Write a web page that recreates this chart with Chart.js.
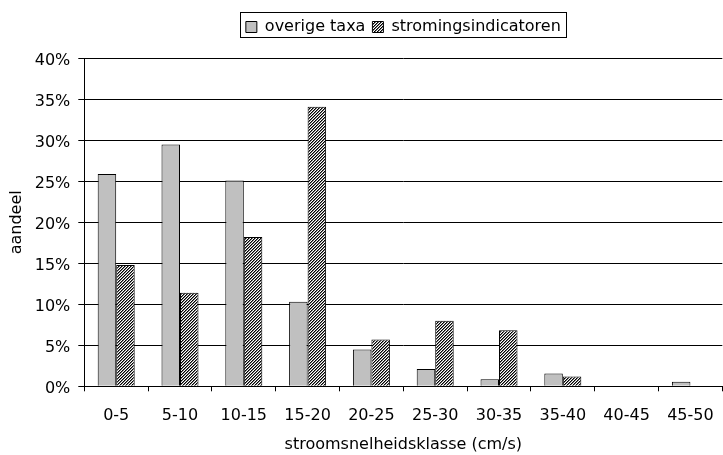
<!DOCTYPE html>
<html><head><meta charset="utf-8">
<script src="https://cdn.jsdelivr.net/npm/chart.js@4/dist/chart.umd.min.js"></script>
<style>html,body{margin:0;padding:0;background:#fff;overflow:hidden;width:723px;height:455px}canvas{display:block}</style>
</head><body>
<canvas id="c" width="729" height="455"></canvas>
<script>
const categories = ['0-5','5-10','10-15','15-20','20-25','25-30','30-35','35-40','40-45','45-50'];
const overigeTaxa = [25.9, 29.5, 25.1, 10.3, 4.5, 2.1, 0.85, 1.55, 0, 0.55];
const stromingsindicatoren = [14.8, 11.4, 18.2, 34.1, 5.7, 8.0, 6.85, 1.2, 0, 0];
const seriesNames = ['overige taxa', 'stromingsindicatoren'];
const yMin = 0, yMax = 40, yStep = 5;
const xTitle = 'stroomsnelheidsklasse (cm/s)';
const yTitle = 'aandeel';

function hatch() {
  const t = document.createElement('canvas');
  t.width = 3; t.height = 3;
  const g = t.getContext('2d');
  const cols = ['#000', '#7a7a7a', '#fff'];
  for (let y = 0; y < 3; y++) for (let x = 0; x < 3; x++) {
    g.fillStyle = cols[(x + y) % 3];
    g.fillRect(x, y, 1, 1);
  }
  return document.getElementById('c').getContext('2d').createPattern(t, 'repeat');
}

const FONT = {family: '"DejaVu Sans", sans-serif', size: 16};
Chart.defaults.color = '#000';
Chart.defaults.font.family = FONT.family;
Chart.defaults.font.size = 16;

const legendPlugin = {
  id: 'legendFrame',
  beforeLayout(chart) {
    const lg = chart.legend;
    if (lg && !lg._sized) {
      const orig = lg.fit.bind(lg);
      lg.fit = function() { orig(); this.height = 46.3; };
      lg._sized = true;
    }
  },
  afterDraw(chart) {
    const hb = chart.legend && chart.legend.legendHitBoxes;
    if (!hb || !hb.length) return;
    const ctx = chart.ctx;
    const last = hb[hb.length - 1];
    const l = Math.round(hb[0].left - 6) + 0.5;
    const r = Math.round(last.left + last.width + 5) + 0.5;
    const t = Math.round(hb[0].top - 7) + 0.5;
    const b = Math.round(hb[0].top + 18) + 0.5;
    ctx.save();
    ctx.strokeStyle = '#000';
    ctx.lineWidth = 1;
    ctx.strokeRect(l, t, r - l, b - t);
    ctx.restore();
  }
};

new Chart(document.getElementById('c'), {
  type: 'bar',
  data: {
    labels: categories,
    datasets: [
      {label: seriesNames[0], data: overigeTaxa, backgroundColor: '#C0C0C0', borderColor: '#000', borderWidth: 1,
       categoryPercentage: 0.58, barPercentage: 1.0},
      {label: seriesNames[1], data: stromingsindicatoren, backgroundColor: hatch(), borderColor: '#000', borderWidth: 1,
       categoryPercentage: 0.58, barPercentage: 1.0}
    ]
  },
  options: {
    responsive: false,
    animation: false,
    layout: {padding: {top: 12, left: 0, right: 0, bottom: 0}},
    plugins: {
      legend: {
        position: 'top',
        fullSize: false,
        labels: {boxWidth: 11, boxHeight: 11, padding: 7, font: FONT, color: '#000'}
      },
      tooltip: {enabled: false}
    },
    scales: {
      x: {
        grid: {display: true, drawOnChartArea: false, drawTicks: true, tickLength: 5, color: '#000', offset: true},
        border: {display: true, color: '#000', width: 1},
        ticks: {font: FONT, color: '#000', padding: 15, maxRotation: 0, autoSkip: false},
        title: {display: true, text: xTitle, font: FONT, color: '#000', padding: {top: 0, bottom: 1}},
        afterFit(s) { s.height = 68.7; }
      },
      y: {
        min: yMin, max: yMax,
        grid: {color: '#000', lineWidth: 1, drawTicks: true, tickLength: 6},
        border: {display: true, color: '#000', width: 1},
        ticks: {stepSize: yStep, font: FONT, color: '#000', padding: 8, labelOffset: 3,
                callback: v => v + '%'},
        title: {display: true, text: yTitle, font: FONT, color: '#000', padding: {top: 7.4, bottom: 0}},
        afterFit(s) { s.width = 84.3; }
      }
    }
  },
  plugins: [legendPlugin]
});
</script>
</body></html>
